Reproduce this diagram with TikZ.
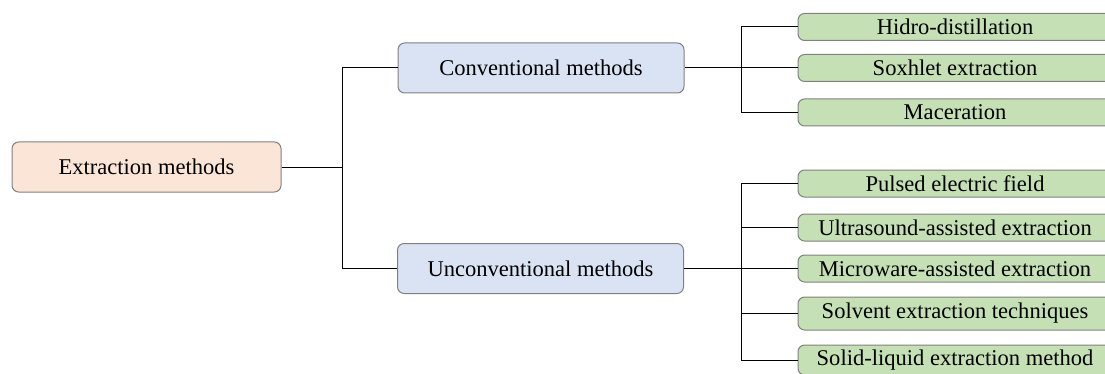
\documentclass[tikz,border=0pt]{standalone}
\usepackage{fontspec}
\setmainfont{Liberation Serif}
\begin{document}
\begin{tikzpicture}[x=0.75pt,y=-0.75pt,
  box/.style={draw=black!50, line width=0.75pt, rounded corners=5pt, inner sep=0pt,
    font=\fontsize{16.9}{20}\selectfont, text=black},
  rootbox/.style={box, fill=rootfill, minimum width=269*0.75pt, minimum height=50*0.75pt},
  midbox/.style={box, fill=midfill, minimum width=286*0.75pt, minimum height=50*0.75pt},
  leafbox/.style={box, fill=leaffill, minimum width=314*0.75pt, minimum height=27*0.75pt},
  conn/.style={draw=black, line width=0.75pt}]
\definecolor{rootfill}{HTML}{FBE5D6}
\definecolor{midfill}{HTML}{DAE3F3}
\definecolor{leaffill}{HTML}{C5E0B4}
\useasboundingbox (0,0) rectangle (1105,374);
\clip (0,0) rectangle (1105,374);

\node[rootbox] (root) at (146.5,167) {Extraction methods};
\node[midbox] (conv) at (541,68) {Conventional methods};
\node[midbox] (unconv) at (540.5,268.5) {Unconventional methods};

\node[leafbox] (hidro) at (955,27) {Hidro-distillation};
\node[leafbox] (soxh) at (955,68) {Soxhlet extraction};
\node[leafbox] (mace) at (955,112.5) {Maceration};

\node[leafbox] (pef) at (955,183.5) {Pulsed electric field};
\node[leafbox] (ultra) at (955,227.5) {Ultrasound-assisted extraction};
\node[leafbox] (micro) at (955,268.5) {Microware-assisted extraction};
\node[leafbox, minimum height=33*0.75pt] (solv) at (955,313.5) {Solvent extraction techniques};
\node[leafbox, minimum height=30*0.75pt] (solid) at (955,360) {Solid-liquid extraction method};

\coordinate (j1) at (342,167);
\coordinate (j2) at (741,68);
\coordinate (j3) at (741,268.5);

\draw[conn] (root.east) -- (j1);
\draw[conn] (j1) |- (conv.west);
\draw[conn] (j1) |- (unconv.west);

\draw[conn] (conv.east) -- (soxh.west);
\draw[conn] (j2) |- (hidro.west);
\draw[conn] (j2) |- (mace.west);

\draw[conn] (unconv.east) -- (micro.west);
\draw[conn] (j3) |- (pef.west);
\draw[conn] (j3) |- (ultra.west);
\draw[conn] (j3) |- (solv.west);
\draw[conn] (j3) |- (solid.west);
\end{tikzpicture}
\end{document}
